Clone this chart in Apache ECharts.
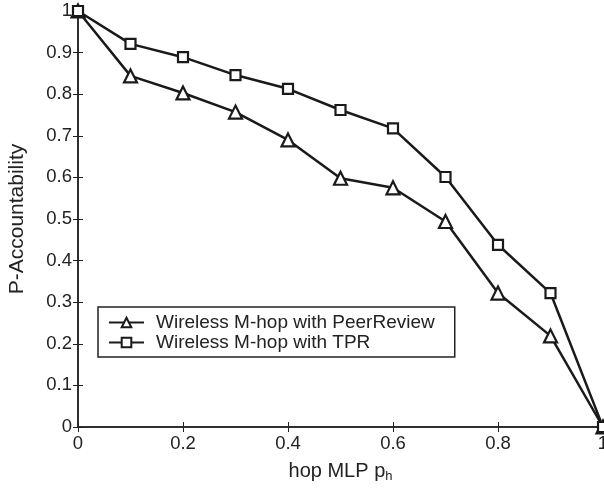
<!DOCTYPE html>
<html>
<head>
<meta charset="utf-8">
<script src="https://cdn.jsdelivr.net/npm/echarts@6/dist/echarts.min.js"></script>
<style>
  html, body { margin: 0; padding: 0; background: #fff; }
  #chart { width: 604px; height: 489px; }
</style>
</head>
<body>
<div id="chart"></div>
<script>
// hop MLP values on the x axis
var hopMLP = [0, 0.1, 0.2, 0.3, 0.4, 0.5, 0.6, 0.7, 0.8, 0.9, 1];
var peerReview = [1, 0.844, 0.803, 0.757, 0.69, 0.598, 0.575, 0.494, 0.322, 0.219, 0];
var tpr = [1, 0.921, 0.889, 0.846, 0.813, 0.762, 0.718, 0.601, 0.438, 0.322, 0];
var seriesNames = ['Wireless M-hop with PeerReview', 'Wireless M-hop with TPR'];

var chart = echarts.init(document.getElementById('chart'));
var font = 'Liberation Sans, Arial, sans-serif';

function pairs(ys) {
    return hopMLP.map(function (x, i) { return [x, ys[i]]; });
}

var frameAxis = {
    min: 0, max: 1,
    axisLine: { show: true, lineStyle: { color: '#222', width: 1.5 } },
    axisTick: { show: true, inside: true, length: 5, lineStyle: { color: '#222' } },
    axisLabel: { show: false },
    splitLine: { show: false }
};

var option = {
    backgroundColor: '#fff',
    animation: false,
    grid: { left: 78, right: 1, top: 11, bottom: 62, outerBoundsMode: 'none' },
    legend: {
        orient: 'vertical',
        left: 98, top: 307,
        padding: [6, 20, 5, 10],
        itemGap: 1,
        itemWidth: 35, itemHeight: 12,
        backgroundColor: '#fff',
        borderColor: '#222', borderWidth: 1.5,
        textStyle: { fontFamily: font, fontSize: 19, color: '#222', padding: [0, 0, 0, 7] },
        data: seriesNames
    },
    xAxis: [
        Object.assign({}, frameAxis, {
            type: 'value', position: 'bottom', interval: 0.2,
            axisLabel: { show: true, fontFamily: font, fontSize: 18.5, color: '#222', margin: 7 },
            name: '{a|hop MLP p}{b|h}',
            nameLocation: 'middle',
            nameGap: 33,
            nameTextStyle: {
                rich: {
                    a: { fontFamily: font, fontSize: 20, color: '#222' },
                    b: { fontFamily: font, fontSize: 13, color: '#222', verticalAlign: 'bottom', padding: [10, 0, 0, 0] }
                }
            }
        }),
        Object.assign({}, frameAxis, { type: 'value', position: 'top', interval: 0.2 })
    ],
    yAxis: [
        Object.assign({}, frameAxis, {
            type: 'value', position: 'left', interval: 0.1,
            axisLabel: { show: true, fontFamily: font, fontSize: 18.5, color: '#222', margin: 6 },
            name: 'P-Accountability',
            nameLocation: 'middle',
            nameGap: 50,
            nameTextStyle: { fontFamily: font, fontSize: 21, color: '#222' }
        }),
        Object.assign({}, frameAxis, { type: 'value', position: 'right', interval: 0.1 })
    ],
    series: [
        {
            name: seriesNames[0],
            type: 'line',
            data: pairs(peerReview),
            symbol: 'triangle',
            symbolSize: 13,
            lineStyle: { color: '#1a1a1a', width: 2.5 },
            itemStyle: { color: '#fff', borderColor: '#1a1a1a', borderWidth: 2.2 },
            z: 3
        },
        {
            name: seriesNames[1],
            type: 'line',
            data: pairs(tpr),
            symbol: 'rect',
            symbolSize: 10,
            lineStyle: { color: '#1a1a1a', width: 2.5 },
            itemStyle: { color: '#fff', borderColor: '#1a1a1a', borderWidth: 2.2 },
            z: 3
        }
    ]
};

chart.setOption(option);
</script>
</body>
</html>
